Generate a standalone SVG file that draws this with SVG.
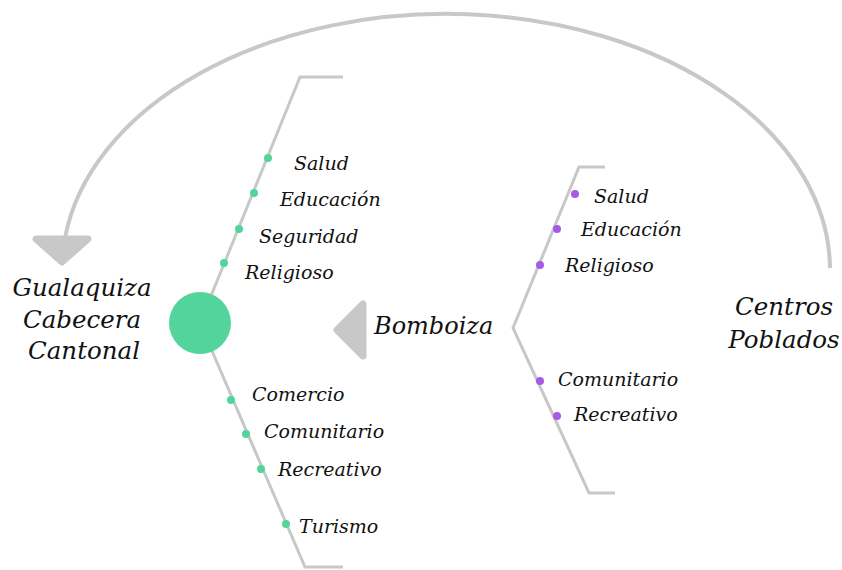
<svg xmlns="http://www.w3.org/2000/svg" width="842" height="570" viewBox="0 0 842 570">
<style>
.t{font-family:"DejaVu Serif","Liberation Serif",serif;font-style:italic;fill:#111}
.s{font-size:19px}
.b{font-size:24px}
.bg{font-size:24.5px}
.ln{fill:none;stroke:#c8c8c8;stroke-width:3;stroke-linejoin:miter}
.arc{fill:none;stroke:#c8c8c8;stroke-width:4}
.head{fill:#c8c8c8;stroke:#c8c8c8;stroke-width:7;stroke-linejoin:round}
.g{fill:#53d49b}
.p{fill:#a65be6}
</style>
<rect width="842" height="570" fill="#ffffff"/>
<g id="connectors">
<path class="arc" d="M830 268 A384 256 0 0 0 65 238"/>
<polygon class="head" points="36,239 88,239 62,262"/>
<polyline class="ln" points="343,77 300,77 200,323 305,567 343,567"/>
<polyline class="ln" points="605,167 579,167 513,328 589,493 615,493"/>
<polygon class="head" points="363,304 363,356 337,330"/>
</g>
<g id="gualaquiza">
<text class="t bg" text-anchor="middle"><tspan x="82" y="296">Gualaquiza</tspan><tspan x="82" y="328">Cabecera</tspan><tspan x="84" y="359">Cantonal</tspan></text>
</g>
<g id="center"><circle class="g" cx="200" cy="323" r="31"/></g>
<g id="left-items">
<circle class="g" cx="268" cy="158" r="4"/><text class="t s" x="294" y="170">Salud</text>
<circle class="g" cx="254" cy="193" r="4"/><text class="t s" x="280" y="206">Educación</text>
<circle class="g" cx="239" cy="229" r="4"/><text class="t s" x="259" y="243">Seguridad</text>
<circle class="g" cx="224" cy="263" r="4"/><text class="t s" x="245" y="279">Religioso</text>
<circle class="g" cx="231" cy="400" r="4"/><text class="t s" x="252" y="401">Comercio</text>
<circle class="g" cx="246" cy="434" r="4"/><text class="t s" x="264" y="438">Comunitario</text>
<circle class="g" cx="261" cy="469" r="4"/><text class="t s" x="278" y="476">Recreativo</text>
<circle class="g" cx="286" cy="524" r="4"/><text class="t s" x="299" y="533">Turismo</text>
</g>
<g id="bomboiza"><text class="t b" x="374" y="334">Bomboiza</text></g>
<g id="right-items">
<circle class="p" cx="575" cy="194" r="4"/><text class="t s" x="594" y="203">Salud</text>
<circle class="p" cx="557" cy="229" r="4"/><text class="t s" x="581" y="236">Educación</text>
<circle class="p" cx="540" cy="265" r="4"/><text class="t s" x="565" y="272">Religioso</text>
<circle class="p" cx="540" cy="381" r="4"/><text class="t s" x="558" y="386">Comunitario</text>
<circle class="p" cx="557" cy="416" r="4"/><text class="t s" x="574" y="421">Recreativo</text>
</g>
<g id="centros">
<text class="t bg" text-anchor="middle"><tspan x="784" y="315">Centros</tspan><tspan x="784" y="348">Poblados</tspan></text>
</g>
</svg>
